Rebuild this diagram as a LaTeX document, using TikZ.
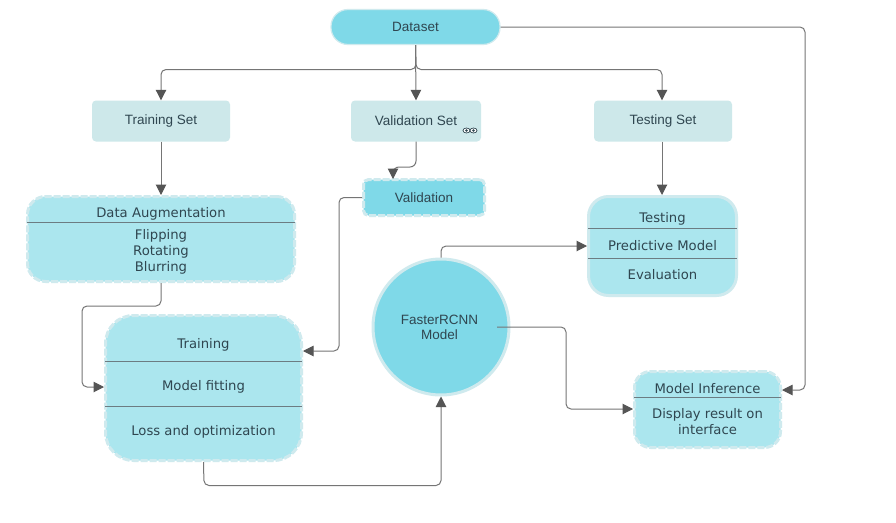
\documentclass[tikz,border=0pt]{standalone}
\usepackage{fontspec}
\setmainfont{Liberation Sans}
\newfontfamily\vfont{DejaVu Sans}
\usetikzlibrary{arrows.meta,calc,shapes.geometric}
\definecolor{txt}{HTML}{2F4650}
\definecolor{dark}{HTML}{7FD9E8}
\definecolor{mid}{HTML}{ABE6EE}
\definecolor{pale}{HTML}{CDE8EA}
\definecolor{rim}{HTML}{CFEAEE}
\definecolor{lin}{HTML}{757575}
\definecolor{dvd}{HTML}{6C7C82}
\definecolor{tip}{HTML}{555555}
\tikzset{
  base/.style={align=center,text=txt,inner sep=0pt,font=\fontsize{13.5}{14}\selectfont},
  setbox/.style={base,rectangle,fill=pale,rounded corners=4,minimum width=#1,minimum height=41},
  multi/.style={base,rectangle,fill=mid,draw=rim,line width=3},
  dashbox/.style={multi,dash pattern=on 7pt off 2pt},
  conn/.style={draw=lin,line width=1,rounded corners=5,-{Triangle[length=10.5,width=10.5,fill=tip,color=tip]}},
  divider/.style={draw=dvd,line width=0.9},
  lbl/.style={text=txt,inner sep=0pt,align=center,font=\vfont\fontsize{13.2}{16}\selectfont},
}
\begin{document}
\begin{tikzpicture}[x=1pt,y=-1pt]
\useasboundingbox (0,0) rectangle (896,522);
\fill[white] (0,0) rectangle (896,522);
\node[base,rectangle,fill=dark,draw=rim,line width=1.2,rounded corners=17,minimum width=169,minimum height=35] (ds) at (415.5,27) {Dataset};
\node[setbox=138] (tr) at (161,121) {Training Set};
\node[setbox=130] (va) at (416,121) {Validation Set};
\node[setbox=138] (te) at (663,121) {Testing Set};
\node[base,rectangle,fill=dark,draw=rim,line width=3,dash pattern=on 7pt off 2pt,rounded corners=5,minimum width=121,minimum height=36] (vl) at (424,197.5) {Validation};
\node[dashbox,rounded corners=18,minimum width=267,minimum height=85] (da) at (161,239) {};
\node[dashbox,rounded corners=28,minimum width=196,minimum height=145] (tn) at (203.5,388) {};
\node[multi,rounded corners=20,minimum width=148,minimum height=99] (ts) at (662.5,246) {};
\node[dashbox,rounded corners=16,minimum width=146,minimum height=76] (mi) at (707.5,409.5) {};
\node[base,circle,fill=dark,draw=rim,line width=3,minimum size=136] (cn) at (441,327) {};
\node[base] (cnt) at (439.5,327.5) {FasterRCNN\\[1pt]Model};
% dividers
\draw[divider,line width=1.4] ($(da.west |- 0,222.5)+(1,0)$) -- ($(da.east |- 0,222.5)+(-1,0)$);
\draw[divider] ($(tn.west |- 0,361.5)+(1,0)$) -- ($(tn.east |- 0,361.5)+(-1,0)$);
\draw[divider] ($(tn.west |- 0,406.5)+(1,0)$) -- ($(tn.east |- 0,406.5)+(-1,0)$);
\draw[divider] ($(ts.west |- 0,228.5)+(1,0)$) -- ($(ts.east |- 0,228.5)+(-1,0)$);
\draw[divider] ($(ts.west |- 0,258.5)+(1,0)$) -- ($(ts.east |- 0,258.5)+(-1,0)$);
\draw[divider] ($(mi.west |- 0,397.5)+(1,0)$) -- ($(mi.east |- 0,397.5)+(-1,0)$);
% text
\node[lbl] (da1) at (161,214) {Data Augmentation};
\node[lbl] (da2) at (161,251.5) {Flipping\\Rotating\\Blurring};
\node[lbl] (tn1) at (203.5,345) {Training};
\node[lbl] (tn2) at (203.5,387) {Model fitting};
\node[lbl] (tn3) at (203.5,432) {Loss and optimization};
\node[lbl] (ts1) at (662.5,219) {Testing};
\node[lbl] (ts2) at (662.5,245.5) {Predictive Model};
\node[lbl] (ts3) at (662.5,275) {Evaluation};
\node[lbl] (mi1) at (707.5,388.5) {Model Inference};
\node[lbl] (mi2) at (707.5,422) {Display result on\\interface};
% eye icon
\node[draw=txt,fill=white,ellipse,line width=0.7,minimum width=7,minimum height=5,inner sep=0pt] (e1) at (466.5,130.5) {};
\node[draw=txt,fill=white,ellipse,line width=0.7,minimum width=7,minimum height=5,inner sep=0pt] (e2) at (473.5,130.5) {};
\fill[txt] (e1.center) circle (1.4) (e2.center) circle (1.4);
% connectors
\draw[conn] (ds.south) -- (416,69.5) -| (tr.north);
\draw[conn] (ds.south) -- (va.north);
\draw[conn] (ds.south) -- (416,69.5) -| (te.north -| 662,0);
\draw[conn] (ds.east) -- (805,27) |- (mi.east |- 0,390);
\draw[conn] (tr.south) -- (da.north -| tr.south);
\draw[conn,rounded corners=6] (va.south) -- (416,167) -- (393,167) -- (393,179);
\draw[conn] (vl.west) -- (339,197.5) |- (tn.east |- 0,351);
\draw[conn] (da.south) -- (161,306) -- (82,306) |- (tn.west |- 0,387);
\draw[conn] (tn.south) -- (204,485.5) -| (cn.south);
\draw[conn] (cn.north) -- (441,246) -- (ts.west);
\draw[conn] ($(cn.center)+(56,0)$) -- (566,327) |- (mi.west |- 0,409);
\draw[conn] (te.south -| 662,0) -- (ts.north -| 662,0);
\end{tikzpicture}
\end{document}
